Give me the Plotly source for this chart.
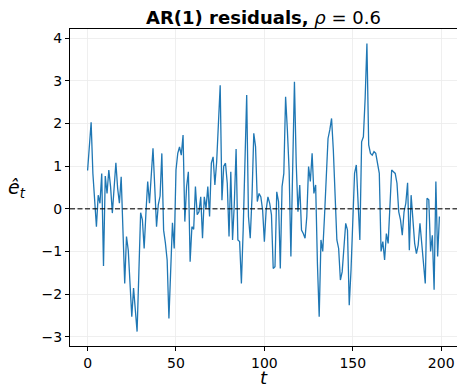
import plotly.graph_objects as go

# residual series e_t for t = 0..199
t_values = list(range(200))
residuals = [
    0.9, 1.5, 2.03, 0.83, 0.2, -0.42, 0.32, 0.13, 0.83, -1.34,
    0.77, 0.36, 0.91, 0.52, -0.1, 0.52, 1.08, 0.48, 0.13, 0.75,
    -0.3, -1.75, -0.65, -0.97, -1.75, -2.53, -1.86, -2.3, -2.88, -1.5,
    -0.09, -0.26, -0.93, -0.1, 0.64, 0.13, 0.8, 1.42, 0.5, -0.42,
    0.1, 0.3, 1.3, -0.5, -0.8, -1.2, -2.57, -1.44, -0.33, -0.93,
    0.91, 1.3, 1.45, 1.26, 1.73, -0.3, 0.52, 0.87, -1.24, -0.42,
    -0.48, 0.52, -0.14, -0.07, 0.28, -0.69, 0.28, 0.01, 0.52, -0.18,
    1.07, 1.22, 0.56, 1.1, 1.9, 2.9, 0.2, 1.0, 1.07, 0.6,
    -0.65, 0.87, -0.73, 0.13, 1.4, -0.73, -0.77, -1.75, -0.5, 1.07,
    2.67, -0.18, -0.69, 0.28, 1.77, 1.46, 0.17, 0.36, 0.28, -0.03,
    -0.77, -0.03, 0.28, 0.13, -0.14, -1.4, -1.36, 0.4, 0.17, -1.4,
    0.52, 0.83, 2.63, 1.85, 0.9, -1.12, 0.9, 2.98, 1.07, -0.07,
    0.56, -0.5, -0.58, -0.69, -0.18, 0.99, 0.64, 1.3, 0.36, 0.56,
    -1.28, -2.53, -0.73, -1.0, -0.18, 0.6, 1.65, 1.85, 2.12, 1.38,
    0.44, -0.73, -0.93, -1.67, -1.48, -0.81, -0.34, -0.5, -2.26, -1.44,
    -0.26, 0.83, 1.03, 0.13, -0.73, 1.57, 1.69, 2.6, 3.88, 1.5,
    1.3, 1.26, 1.34, 1.3, 1.07, 0.83, -1.0, -0.77, -1.2, -0.58,
    -0.81, -0.03, 0.91, 0.87, 0.83, 0.6, -0.07, -0.26, -0.62, -0.07,
    0.13, 0.61, -0.97, 0.32, -0.34, -0.81, -1.05, -0.85, -0.34, -0.81,
    -1.44, -1.75, 0.25, 0.21, -1.0, -0.62, -1.9, 0.64, -1.12, -0.18,
]

x_ticks = [0, 50, 100, 150, 200]
y_ticks = [-3, -2, -1, 0, 1, 2, 3, 4]
y_tick_labels = ["\u22123", "\u22122", "\u22121", "0", "1", "2", "3", "4"]

FONT = "DejaVu Sans"

xmin, xmax = min(t_values), max(t_values)
ymin, ymax = min(residuals), max(residuals)
xpad = 0.05 * (xmax - xmin)
ypad = 0.05 * (ymax - ymin)

fig = go.Figure()
fig.add_trace(go.Scatter(
    x=t_values, y=residuals, mode="lines",
    line=dict(color="#1f77b4", width=1.3),
    showlegend=False, hoverinfo="skip",
))
fig.add_hline(y=0, line=dict(color="rgba(0,0,0,0.7)", dash="5px,2.5px", width=1.4))

fig.update_layout(
    width=457, height=387,
    margin=dict(l=70, r=0, t=29, b=41),
    paper_bgcolor="white", plot_bgcolor="white",
    font=dict(family=FONT, size=14, color="black"),
    title=dict(
        text="<b>AR(1) residuals,</b> <i>\u03c1</i> = 0.6",
        x=(70 + 457) / 2 / 457, xanchor="center",
        y=1 - 17.5 / 387, yanchor="middle",
        font=dict(family=FONT, size=18, color="black"),
    ),
    xaxis=dict(
        range=[xmin - xpad, xmax + xpad],
        tickvals=x_ticks, ticktext=[str(v) for v in x_ticks],
        ticks="outside", ticklen=4, tickwidth=1, tickcolor="black",
        showline=True, linecolor="black", linewidth=1, mirror=True,
        showgrid=True, gridcolor="#ebebeb", gridwidth=0.8,
        zeroline=False, tickfont=dict(size=14),
    ),
    yaxis=dict(
        range=[ymin - ypad, ymax + ypad],
        tickvals=y_ticks, ticktext=y_tick_labels,
        ticks="outside", ticklen=4, tickwidth=1, tickcolor="black",
        showline=True, linecolor="black", linewidth=1, mirror=False,
        showgrid=True, gridcolor="#ebebeb", gridwidth=0.8,
        zeroline=False, tickfont=dict(size=14),
    ),
    annotations=[
        dict(text="<i>t</i>", xref="paper", yref="paper",
             x=0.5, y=-31 / 316.7, xanchor="center", yanchor="middle",
             showarrow=False, font=dict(family=FONT, size=18)),
        dict(text="<i>\u00ea<sub>t</sub></i>", xref="paper", yref="paper",
             x=-53 / 387, y=(345.7 - 188) / 316.7, xanchor="center", yanchor="middle",
             showarrow=False, font=dict(family=FONT, size=19)),
    ],
)

fig.write_html("out.html",
               config={"displayModeBar": False, "staticPlot": True},
               post_script="document.body.style.margin='0px';document.body.style.overflow='hidden';")
